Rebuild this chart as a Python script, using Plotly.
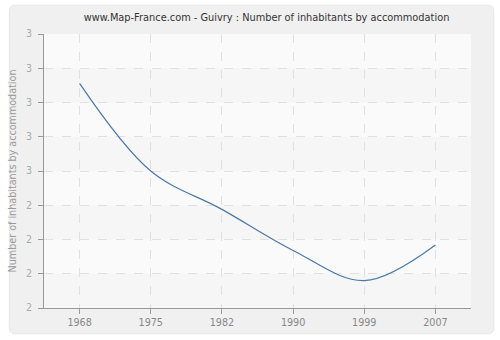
import plotly.graph_objects as go

years = ["1968", "1975", "1982", "1990", "1999", "2007"]
inhabitants = [2.82, 2.50, 2.36, 2.21, 2.10, 2.23]
y_tick_values = [2.0, 2.125, 2.25, 2.375, 2.5, 2.625, 2.75, 2.875, 3.0]
y_tick_labels = ["2", "2", "2", "2", "3", "3", "3", "3", "3"]

W, H = 500, 340
L, R, T, B = 40, 29, 34, 30
pw, ph = W - L - R, H - T - B

def px(x):
    return (x - L) / pw

def py(y):
    return (H - B - y) / ph

def rounded_rect(x0, y0, x1, y1, r):
    rx, ry = r / pw, r / ph
    a, b, c, d = px(x0), py(y1), px(x1), py(y0)
    return (f"M{a+rx},{b} L{c-rx},{b} Q{c},{b} {c},{b+ry} L{c},{d-ry} Q{c},{d} {c-rx},{d} "
            f"L{a+rx},{d} Q{a},{d} {a},{d-ry} L{a},{b+ry} Q{a},{b} {a+rx},{b} Z")

fig = go.Figure()
fig.add_trace(go.Scatter(
    x=years, y=inhabitants, mode="lines",
    line=dict(color="#4a78ad", width=1.2, shape="spline", smoothing=1.0),
    hoverinfo="x+y", showlegend=False,
))

font_family = "DejaVu Sans, Verdana, sans-serif"

# alternating light bands between gridlines
band_shapes = []
for i in range(len(y_tick_values) - 1):
    if i % 2 == 0:
        band_shapes.append(dict(
            type="rect", xref="paper", yref="y", x0=0, x1=1,
            y0=y_tick_values[i], y1=y_tick_values[i + 1],
            fillcolor="#f6f6f6", line=dict(width=0), layer="below"))

fig.update_layout(
    width=W, height=H,
    margin=dict(l=L, r=R, t=T, b=B),
    paper_bgcolor="#ffffff",
    plot_bgcolor="#f9f9f9",
    font=dict(family=font_family, size=9.6, color="#888888"),
    title=dict(
        text="www.Map-France.com - Guivry : Number of inhabitants by accommodation",
        x=0.533, xanchor="center", y=1 - 18 / H, yanchor="middle",
        font=dict(size=9.8, color="#333333", family=font_family),
    ),
    xaxis=dict(
        type="category", range=[-0.5, len(years) - 0.5],
        showgrid=True, gridcolor="#e0e0e0", griddash="dash", gridwidth=1,
        showline=True, linecolor="#999999", linewidth=1,
        ticks="outside", ticklen=5, tickcolor="#999999",
        tickfont=dict(size=9.6, color="#888888"),
        zeroline=False, fixedrange=True,
    ),
    yaxis=dict(
        range=[2, 3],
        tickvals=y_tick_values, ticktext=y_tick_labels,
        showgrid=True, gridcolor="#e0e0e0", griddash="dash", gridwidth=1,
        showline=True, linecolor="#999999", linewidth=1,
        ticks="outside", ticklen=5, tickcolor="#999999",
        ticklabelstandoff=4,
        tickfont=dict(size=9.6, color="#aaaaaa"),
        title=dict(text="Number of inhabitants by accommodation",
                   font=dict(size=9.6, color="#999999"), standoff=7),
        zeroline=False, fixedrange=True,
    ),
    shapes=[
        dict(type="path", xref="paper", yref="paper",
             path=rounded_rect(5, 5, 494, 336, 6),
             fillcolor="#f0f0f0", line=dict(color="#e6e6e6", width=1),
             layer="below"),
        dict(type="rect", xref="paper", yref="paper", x0=0, x1=1, y0=0, y1=1,
             fillcolor="#fafafa", line=dict(width=0), layer="below"),
    ] + band_shapes,
)

fig.write_html("out.html")
